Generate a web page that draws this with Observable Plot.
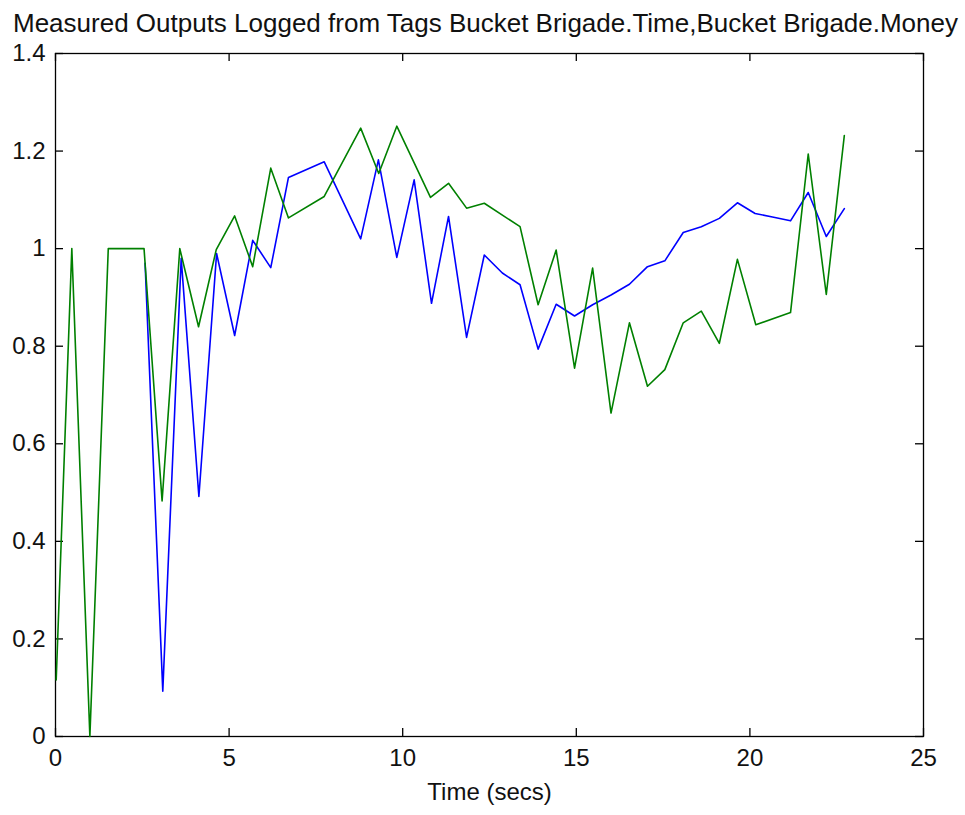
<!DOCTYPE html>
<html>
<head>
<meta charset="utf-8">
<script src="https://cdn.jsdelivr.net/npm/d3@7"></script>
<script src="https://cdn.jsdelivr.net/npm/@observablehq/plot@0.6"></script>
<style>
  html, body { margin: 0; padding: 0; background: #ffffff; }
  #chart { width: 965px; height: 815px; }
</style>
</head>
<body>
<div id="chart"></div>
<script>
// ---- Data ----
const titleText = "Measured Outputs Logged from Tags Bucket Brigade.Time,Bucket Brigade.Money";
const xLabelText = "Time (secs)";

const xTickValues = [0, 5, 10, 15, 20, 25];
const xTickLabels = ["0", "5", "10", "15", "20", "25"];
const yTickValues = [0, 0.2, 0.4, 0.6, 0.8, 1, 1.2, 1.4];
const yTickLabels = ["0", "0.2", "0.4", "0.6", "0.8", "1", "1.2", "1.4"];

// Series: Bucket Brigade.Money (green)
const greenTime = [0.02, 0.47, 0.99, 1.52, 2.04, 2.55, 3.07, 3.58, 4.12, 4.63, 5.16, 5.68, 6.2, 6.71,
  7.74, 8.79, 9.31, 9.83, 10.8, 11.32, 11.84, 12.35, 13.38, 13.9, 14.42, 14.95, 15.47, 16.0, 16.53,
  17.05, 17.55, 18.08, 18.6, 19.12, 19.64, 20.17, 21.17, 21.68, 22.2, 22.72];
const greenValue = [0.116, 1.0, 0.0, 1.0, 1.0, 1.0, 0.483, 1.0, 0.84, 0.998, 1.067, 0.963, 1.165, 1.063,
  1.107, 1.247, 1.154, 1.251, 1.105, 1.134, 1.083, 1.093, 1.045, 0.885, 0.997, 0.755, 0.96, 0.663, 0.848,
  0.718, 0.752, 0.848, 0.872, 0.806, 0.978, 0.844, 0.869, 1.194, 0.906, 1.232];

// Series: Bucket Brigade.Time (blue)
const blueTime = [2.58, 3.09, 3.62, 4.13, 4.64, 5.16, 5.68, 6.2, 6.71, 7.74, 8.79, 9.3, 9.83, 10.33,
  10.83, 11.32, 11.84, 12.35, 12.87, 13.38, 13.9, 14.42, 14.95, 15.47, 16.0, 16.53, 17.05, 17.55, 18.08,
  18.6, 19.12, 19.64, 20.15, 20.65, 21.17, 21.68, 22.2, 22.72];
const blueValue = [0.97, 0.093, 0.98, 0.492, 0.99, 0.822, 1.017, 0.961, 1.146, 1.178, 1.02, 1.182, 0.982,
  1.141, 0.888, 1.066, 0.818, 0.987, 0.95, 0.926, 0.794, 0.886, 0.862, 0.885, 0.905, 0.927, 0.963, 0.975,
  1.033, 1.045, 1.062, 1.094, 1.072, 1.065, 1.057, 1.115, 1.025, 1.082];

const green = greenTime.map((t, i) => ({t, v: greenValue[i]}));
const blue = blueTime.map((t, i) => ({t, v: blueValue[i]}));

// ---- Layout ----
const W = 965, H = 815;
const mL = 55, mR = 42, mT = 53, mB = 79;
const frameW = W - mL - mR, frameH = H - mT - mB;
const tickLen = 8;
const FONT = "Liberation Sans, Arial, Helvetica, sans-serif";

const chart = Plot.plot({
  width: W,
  height: H,
  marginLeft: mL,
  marginRight: mR,
  marginTop: mT,
  marginBottom: mB,
  style: {fontFamily: FONT, fontSize: "24px", color: "#000", background: "#ffffff"},
  x: {domain: [0, 25]},
  y: {domain: [0, 1.4]},
  marks: [
    Plot.frame({stroke: "#000", strokeWidth: 1.3}),
    // inward ticks on all four sides
    Plot.tickX(xTickValues, {x: d => d, insetTop: frameH - tickLen, stroke: "#000", strokeWidth: 1.3}),
    Plot.tickX(xTickValues, {x: d => d, insetBottom: frameH - tickLen, stroke: "#000", strokeWidth: 1.3}),
    Plot.tickY(yTickValues, {y: d => d, insetRight: frameW - tickLen, stroke: "#000", strokeWidth: 1.3}),
    Plot.tickY(yTickValues, {y: d => d, insetLeft: frameW - tickLen, stroke: "#000", strokeWidth: 1.3}),
    Plot.axisX(xTickValues, {anchor: "bottom", tickSize: 0, tickPadding: 12, label: null,
      tickFormat: d => xTickLabels[xTickValues.indexOf(d)], fontSize: 24, fill: "#111"}),
    Plot.axisY(yTickValues, {anchor: "left", tickSize: 0, tickPadding: 10, label: null,
      tickFormat: d => yTickLabels[yTickValues.indexOf(d)], fontSize: 24, fill: "#111"}),
    Plot.line(blue, {x: "t", y: "v", stroke: "#0000ff", strokeWidth: 1.6}),
    Plot.line(green, {x: "t", y: "v", stroke: "#008000", strokeWidth: 1.6}),
    Plot.text([xLabelText], {text: d => d, frameAnchor: "bottom", lineAnchor: "top", dy: 46,
      fontSize: 24, fill: "#111"}),
    Plot.text([titleText], {text: d => d, frameAnchor: "top", lineAnchor: "top", dy: -40, dx: -4,
      fontSize: 26, fill: "#111", className: "chart-title"})
  ]
});

// stretch the title to span the same width as the reference
d3.select(chart).selectAll(".chart-title text")
  .attr("textLength", 945)
  .attr("lengthAdjust", "spacingAndGlyphs");

document.getElementById("chart").appendChild(chart);
</script>
</body>
</html>
